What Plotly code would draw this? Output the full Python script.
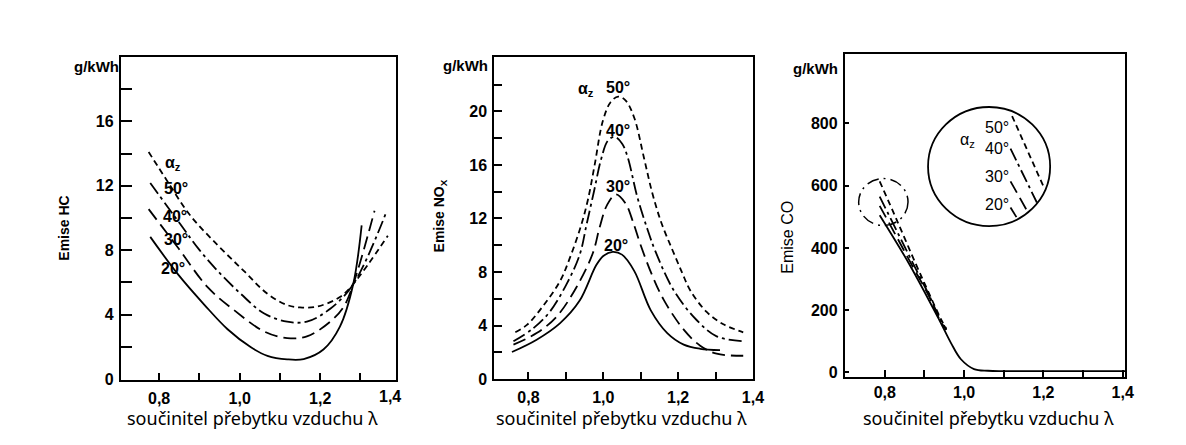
import plotly.graph_objects as go

# ---------------- data ----------------
# Panel 1: HC emissions (g/kWh) vs excess air ratio lambda
hc_lam_50 = [0.774, 0.82, 0.876, 0.946, 1.011, 1.069, 1.118, 1.15, 1.192, 1.249, 1.282, 1.368]
hc_val_50 = [14.1, 12.3, 10.2, 8.3, 6.7, 5.3, 4.6, 4.45, 4.5, 5.1, 5.9, 8.9]
hc_lam_40 = [0.778, 0.852, 0.9, 0.946, 1.003, 1.061, 1.118, 1.167, 1.225, 1.282, 1.364]
hc_val_40 = [12.17, 9.64, 8.02, 6.7, 5.29, 4.07, 3.57, 3.57, 4.37, 5.89, 10.35]
hc_lam_30 = [0.774, 0.848, 0.921, 0.987, 1.061, 1.118, 1.167, 1.225, 1.258, 1.282, 1.335]
hc_val_30 = [10.55, 8.12, 5.69, 4.27, 2.96, 2.55, 2.65, 3.57, 4.48, 5.89, 10.45]
hc_lam_20 = [0.778, 0.847, 0.913, 0.97, 1.028, 1.069, 1.118, 1.159, 1.208, 1.249, 1.282, 1.303]
hc_val_20 = [8.83, 6.5, 4.6, 3.1, 1.98, 1.45, 1.23, 1.25, 1.84, 3.26, 5.89, 9.54]

# Panel 2: NOx emissions
nox_lam_50 = [0.765, 0.796, 0.84, 0.884, 0.91, 0.941, 0.959, 0.977, 0.999, 1.02, 1.04, 1.06, 1.083,
              1.109, 1.131, 1.155, 1.184, 1.21, 1.233, 1.277, 1.321, 1.374]
nox_val_50 = [3.5, 4.05, 5.5, 7.3, 9.0, 11.5, 13.4, 16.0, 19.3, 20.7, 21.1, 20.8, 19.5,
              16.5, 13.9, 11.7, 9.7, 8.0, 6.6, 5.0, 4.1, 3.5]
nox_lam_40 = [0.76, 0.813, 0.857, 0.902, 0.937, 0.955, 0.975, 0.995, 1.012, 1.03, 1.05, 1.065,
              1.091, 1.118, 1.14, 1.189, 1.25, 1.303, 1.374]
nox_val_40 = [2.83, 3.8, 5.03, 7.1, 9.29, 11.5, 14.0, 16.5, 17.8, 18.1, 17.6, 16.6,
              13.6, 11.2, 9.5, 6.6, 4.4, 3.2, 2.83]
nox_lam_30 = [0.76, 0.822, 0.875, 0.928, 0.972, 0.99, 1.01, 1.034, 1.06, 1.08, 1.1, 1.13,
              1.162, 1.215, 1.259, 1.303, 1.374]
nox_val_30 = [2.58, 3.44, 4.66, 6.85, 9.4, 11.3, 13.0, 13.8, 13.1, 11.7, 10.0, 7.8,
              5.9, 3.7, 2.5, 1.9, 1.75]
nox_lam_20 = [0.756, 0.822, 0.884, 0.937, 0.981, 1.0, 1.025, 1.05, 1.083, 1.127, 1.171, 1.215, 1.259, 1.312]
nox_val_20 = [2.03, 2.95, 4.17, 5.87, 8.5, 9.2, 9.5, 9.3, 8.07, 5.14, 3.44, 2.58, 2.27, 2.17]

# Panel 3: CO emissions
co_lam_50 = [0.787, 0.83, 0.879, 0.91, 0.94, 0.955]
co_val_50 = [614, 490, 346, 258, 175, 140]
co_lam_40 = [0.787, 0.83, 0.872, 0.91, 0.937, 0.955]
co_val_40 = [565, 455, 348, 252, 178, 138]
co_lam_30 = [0.787, 0.83, 0.867, 0.91, 0.936, 0.955]
co_val_30 = [535, 435, 348, 248, 175, 136]
co_lam_20 = [0.787, 0.8625, 0.9375, 0.967, 0.992, 1.025, 1.06, 1.1, 1.2, 1.3, 1.407]
co_val_20 = [505, 346, 168, 94, 42, 10.5, 5, 4, 4, 4, 4]

# magnified view segments inside the big circle (panel 3)
co_zoom_lam = {"50": [1.121, 1.2], "40": [1.117, 1.1835], "30": [1.117, 1.1585], "20": [1.117, 1.132]}
co_zoom_val = {"50": [824, 598], "40": [719, 546], "30": [614, 520], "20": [530, 499]}

# circles (panel 3) : [x0, x1, y0, y1] in data units
big_circle = [0.909, 1.217, 470, 853]
small_circle = [0.734, 0.8585, 472, 623]

# labels
angles = ["50°", "40°", "30°", "20°"]
hc_lbl_x = [0.841, 0.839, 0.841, 0.835]
hc_lbl_y = [11.82, 10.1, 8.69, 6.87]
hc_alpha = (0.835, 13.37)
nox_lbl_x = [1.04, 1.04, 1.04, 1.035]
nox_lbl_y = [21.75, 18.55, 14.35, 9.95]
nox_alpha = (0.955, 21.6)
co_lbl_x = [1.083, 1.083, 1.083, 1.083]
co_lbl_y = [787, 719, 630, 541]
co_alpha = (1.0085, 745)

x_tickvals = [0.8, 1.0, 1.2, 1.4]
x_ticktext = ["0,8", "1,0", "1,2", "1,4"]
x_minor = [0.9, 1.1, 1.3]
hc_yticks = [0, 4, 8, 12, 16]
hc_yminor = [2, 6, 10, 14, 18]
nox_yticks = [0, 4, 8, 12, 16, 20]
nox_yminor = [2, 6, 10, 14, 18, 22]
co_yticks = [0, 200, 400, 600, 800]

xtitle = "součinitel přebytku vzduchu λ"

# ---------------- styles ----------------
DASH = {"50": "6px,4px", "40": "13px,4px,3px,4px", "30": "13px,6px", "20": "solid"}
LW = 1.8
TICKFONT = dict(family="Liberation Sans", size=16, color="black", weight="bold")

fig = go.Figure()


def add(x, y, key, xa, ya):
    fig.add_trace(go.Scatter(x=x, y=y, mode="lines", xaxis=xa, yaxis=ya,
                             line=dict(color="black", width=LW, dash=DASH[key], shape="spline", smoothing=1.0),
                             showlegend=False, hoverinfo="skip"))


add(hc_lam_50, hc_val_50, "50", "x", "y")
add(hc_lam_40, hc_val_40, "40", "x", "y")
add(hc_lam_30, hc_val_30, "30", "x", "y")
add(hc_lam_20, hc_val_20, "20", "x", "y")

add(nox_lam_50, nox_val_50, "50", "x2", "y2")
add(nox_lam_40, nox_val_40, "40", "x2", "y2")
add(nox_lam_30, nox_val_30, "30", "x2", "y2")
add(nox_lam_20, nox_val_20, "20", "x2", "y2")

add(co_lam_50, co_val_50, "50", "x3", "y3")
add(co_lam_40, co_val_40, "40", "x3", "y3")
add(co_lam_30, co_val_30, "30", "x3", "y3")
add(co_lam_20, co_val_20, "20", "x3", "y3")
for k in ["50", "40", "30", "20"]:
    add(co_zoom_lam[k], co_zoom_val[k], k, "x3", "y3")


def xaxis(domain, rng, anchor, standoff):
    return dict(domain=domain, range=rng, anchor=anchor, showline=True, linecolor="black", linewidth=2,
                mirror=True, ticks="inside", ticklen=7, tickwidth=1.5, tickcolor="black",
                tickmode="array", tickvals=x_tickvals, ticktext=x_ticktext, tickfont=TICKFONT,
                showgrid=False, zeroline=False, ticklabelstandoff=standoff,
                minor=dict(tickmode="array", tickvals=x_minor, ticks="inside", ticklen=7, tickwidth=1.5,
                           tickcolor="black", showgrid=False))


def yaxis(domain, rng, anchor, ticks, minor, tlen):
    d = dict(domain=domain, range=rng, anchor=anchor, showline=True, linecolor="black", linewidth=2,
             mirror=True, ticks="inside", ticklen=tlen, tickwidth=1.5, tickcolor="black",
             tickmode="array", tickvals=ticks, ticktext=[str(t) for t in ticks], tickfont=TICKFONT,
             showgrid=False, zeroline=False, ticklabelstandoff=2)
    if minor:
        d["minor"] = dict(tickmode="array", tickvals=minor, ticks="inside", ticklen=tlen, tickwidth=1.5,
                          tickcolor="black", showgrid=False)
    return d


W, H = 1186, 445

fig.update_layout(
    width=W, height=H, margin=dict(l=0, r=0, t=0, b=0),
    paper_bgcolor="white", plot_bgcolor="white",
    xaxis=xaxis([122 / W, 400 / W], [0.705, 1.389], "y", 3),
    yaxis=yaxis([1 - 388 / H, 1 - 58 / H], [-0.06, 20], "x", hc_yticks, hc_yminor, 11),
    xaxis2=xaxis([499 / W, 760 / W], [0.709, 1.4], "y2", 3),
    yaxis2=yaxis([1 - 387 / H, 1 - 58 / H], [0, 24.07], "x2", nox_yticks, nox_yminor, 8),
    xaxis3=xaxis([852.7 / W, 1136 / W], [0.699, 1.407], "y3", 0),
    yaxis3=yaxis([1 - 385 / H, 1 - 55 / H], [-15.75, 1023.75], "x3", co_yticks, None, 4),
)

fig.add_shape(type="circle", xref="x3", yref="y3", x0=big_circle[0], x1=big_circle[1],
              y0=big_circle[2], y1=big_circle[3], line=dict(color="black", width=1.8))
fig.add_shape(type="circle", xref="x3", yref="y3", x0=small_circle[0], x1=small_circle[1],
              y0=small_circle[2], y1=small_circle[3], line=dict(color="black", width=1.5, dash="12px,5px,2px,5px"))

ann = []
BOLD = dict(family="Liberation Sans", size=16, color="black", weight="bold")
REG = dict(family="Liberation Sans", size=16, color="black")
C = dict(showarrow=False, xanchor="center", yanchor="middle")

for t, x, y in zip(angles, hc_lbl_x, hc_lbl_y):
    ann.append(dict(text=t, x=x, y=y, xref="x", yref="y", font=BOLD, **C))
ann.append(dict(text="α<sub>z</sub>", x=hc_alpha[0], y=hc_alpha[1], xref="x", yref="y", font=BOLD, **C))
for t, x, y in zip(angles, nox_lbl_x, nox_lbl_y):
    ann.append(dict(text=t, x=x, y=y, xref="x2", yref="y2", font=BOLD, **C))
ann.append(dict(text="α<sub>z</sub>", x=nox_alpha[0], y=nox_alpha[1], xref="x2", yref="y2", font=BOLD, **C))
for t, x, y in zip(angles, co_lbl_x, co_lbl_y):
    ann.append(dict(text=t, x=x, y=y, xref="x3", yref="y3", font=REG, **C))
ann.append(dict(text="α<sub>z</sub>", x=co_alpha[0], y=co_alpha[1], xref="x3", yref="y3", font=REG, **C))

# "1,4" label of first panel (frame ends just before 1.4)
ann.append(dict(text="1,4", x=1.373, y=1 - 405 / H, xref="x", yref="paper", font=TICKFONT, **C))

# units
UNIT = dict(family="Liberation Sans", size=15, color="black", weight="bold")
for cx, cy in [(97, 68), (470, 67), (823, 70)]:
    ann.append(dict(text="g/kWh", x=cx / W, y=1 - cy / H, xref="paper", yref="paper", font=UNIT, **C))

# y titles
YT = dict(family="Liberation Sans", size=14, color="black", weight="bold")
ann.append(dict(text="Emise HC", x=65 / W, y=1 - 233 / H, xref="paper", yref="paper",
                textangle=-90, font=YT, **C))
ann.append(dict(text="Emise NO<sub>X</sub>", x=444 / W, y=1 - 220 / H, xref="paper", yref="paper",
                textangle=-90, font=YT, **C))
ann.append(dict(text="Emise CO", x=794 / W, y=1 - 242 / H, xref="paper", yref="paper",
                textangle=-90, font=dict(family="Liberation Sans", size=16, color="black"), **C))

# x titles
XT = dict(family="Noto Sans", size=18, color="black")
for cx in [255, 627.5, 997.5]:
    ann.append(dict(text=xtitle, x=cx / W, y=1 - 427 / H, xref="paper", yref="paper", font=XT, **C))

fig.update_layout(annotations=ann)
fig.write_html("out.html")
